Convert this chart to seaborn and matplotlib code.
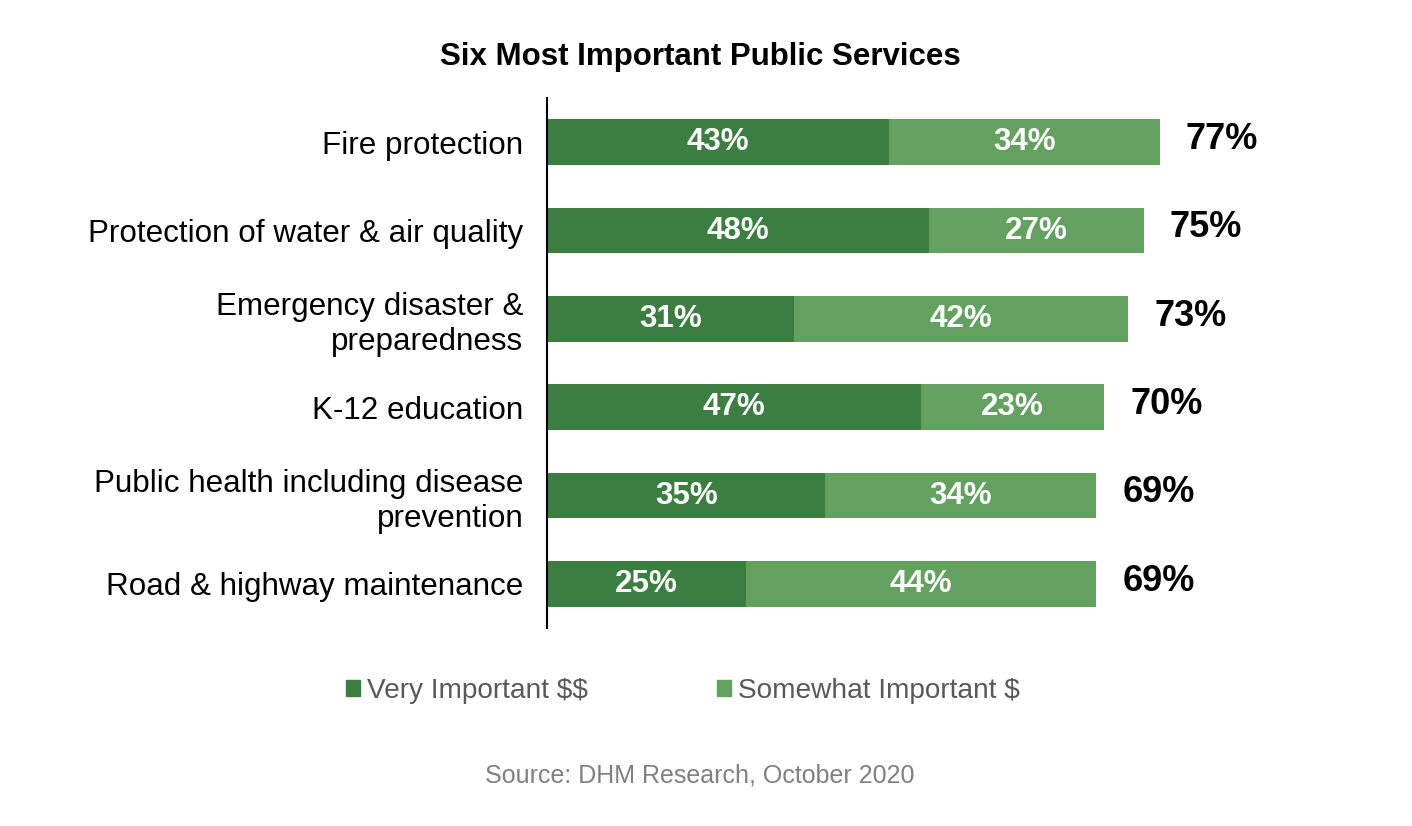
import pandas as pd
import seaborn as sns
import matplotlib.pyplot as plt
from matplotlib.patches import Patch

# data
services = ["Fire protection", "Protection of water & air quality",
            "Emergency disaster &\npreparedness", "K-12 education",
            "Public health including disease\nprevention", "Road & highway maintenance"]
very_important = [43, 48, 31, 47, 35, 25]
somewhat_important = [34, 27, 42, 23, 34, 44]
totals = [77, 75, 73, 70, 69, 69]

dark_green = "#3C7D41"
light_green = "#64A05F"

df = pd.DataFrame({"service": services, "very": very_important,
                   "somewhat": somewhat_important, "total": totals})

sns.set_style("white")
plt.rcParams["font.family"] = ["Liberation Sans", "DejaVu Sans"]
plt.rcParams["text.parse_math"] = False
plt.rcParams["text.color"] = "black"
plt.rcParams["ytick.color"] = "black"

fig = plt.figure(figsize=(14.12, 8.26), dpi=100)
ax = fig.add_axes([547 / 1412, 1 - 628 / 826, (1263 - 547) / 1412, 530 / 826])

# totals in light green first, then the dark part over it
sns.barplot(data=df, x="total", y="service", color=light_green, width=0.52,
            saturation=1, ax=ax, orient="h", linewidth=0)
sns.barplot(data=df, x="very", y="service", color=dark_green, width=0.52,
            saturation=1, ax=ax, orient="h", linewidth=0)

for i, row in df.iterrows():
    ax.text(row["very"] / 2, i, f"{row['very']}%", ha="center", va="center",
            color="white", fontsize=22.6, fontweight="bold")
    ax.text(row["very"] + row["somewhat"] / 2, i, f"{row['somewhat']}%", ha="center",
            va="center", color="white", fontsize=22.6, fontweight="bold")
    ax.text(row["total"] + 3.3, i - 0.03, f"{row['total']}%", ha="left", va="center",
            color="black", fontsize=26, fontweight="bold")

ax.set_xlim(0, 90)
ax.set_ylim(5.5, -0.5)
ax.set_xlabel("")
ax.set_ylabel("")
ax.set_xticks([])
ax.tick_params(axis="y", length=0, pad=17, labelsize=22.6, labelcolor="black")
for lab in ax.get_yticklabels():
    lab.set_linespacing(1.2)
for s in ["top", "right", "bottom"]:
    ax.spines[s].set_visible(False)
ax.spines["left"].set_color("black")
ax.spines["left"].set_linewidth(1.5)

fig.text(0.4958, 1 - 57 / 826, "Six Most Important Public Services", ha="center",
         va="center", fontsize=22.5, fontweight="bold")

handles = [Patch(color=dark_green, label="Very Important $$"),
           Patch(color=light_green, label="Somewhat Important $")]
fig.legend(handles=handles, loc="center", bbox_to_anchor=(0.4837, 1 - 691 / 826),
           ncol=2, frameon=False, fontsize=20.2, labelcolor="#595959",
           handlelength=0.5, handleheight=0.5, handletextpad=0.25, columnspacing=4.6)

fig.text(0.4958, 1 - 775 / 826, "Source: DHM Research, October 2020", ha="center",
         va="center", fontsize=18, color="#808080")

fig.savefig("out.png", dpi=100)
